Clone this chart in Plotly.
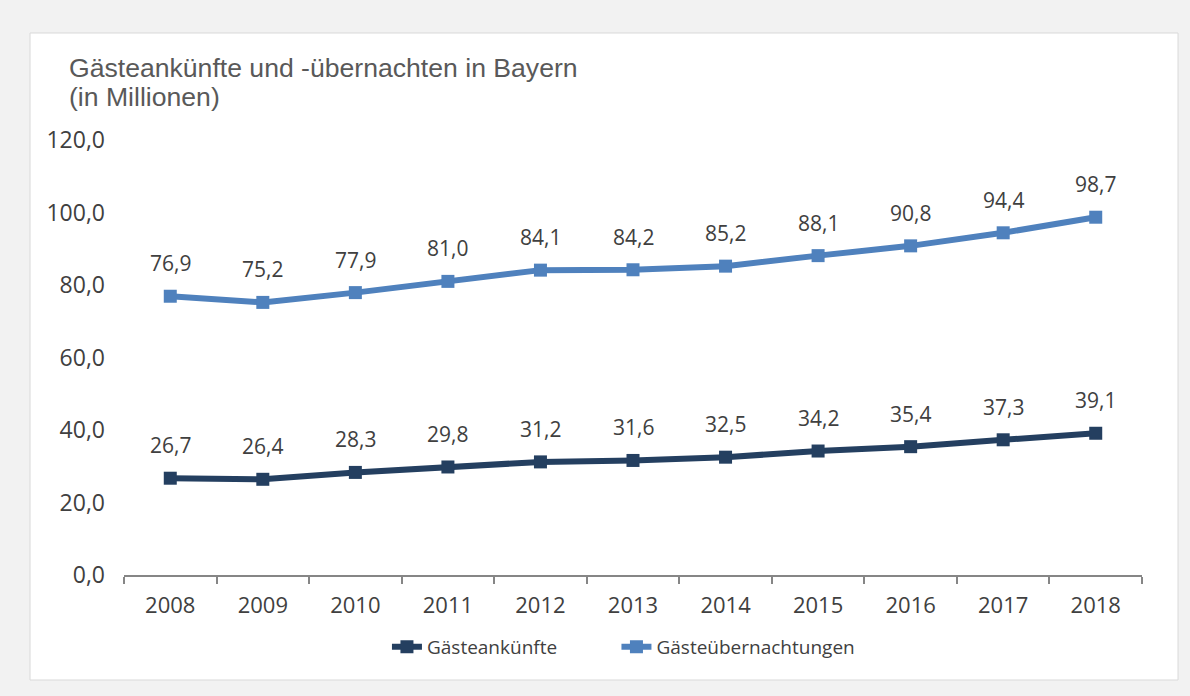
import plotly.graph_objects as go

years = ["2008", "2009", "2010", "2011", "2012", "2013", "2014", "2015", "2016", "2017", "2018"]
ankuenfte = [26.7, 26.4, 28.3, 29.8, 31.2, 31.6, 32.5, 34.2, 35.4, 37.3, 39.1]
uebernachtungen = [76.9, 75.2, 77.9, 81.0, 84.1, 84.2, 85.2, 88.1, 90.8, 94.4, 98.7]
ytick_vals = [0, 20, 40, 60, 80, 100, 120]
ytick_text = ["0,0", "20,0", "40,0", "60,0", "80,0", "100,0", "120,0"]

dark = "#243f60"
light = "#4f81bd"
font_main = "Open Sans"

def fmt(v):
    return f"{v:.1f}".replace(".", ",")

fig = go.Figure()
fig.add_trace(go.Scatter(
    x=years, y=ankuenfte, name="Gästeankünfte" + "\u00a0" * 11, mode="lines+markers",
    line=dict(color=dark, width=6), marker=dict(symbol="square", size=13, color=dark)))
fig.add_trace(go.Scatter(
    x=years, y=uebernachtungen, name="Gästeübernachtungen", mode="lines+markers",
    line=dict(color=light, width=6), marker=dict(symbol="square", size=13, color=light)))

annotations = []
for series in (ankuenfte, uebernachtungen):
    for i, v in enumerate(series):
        annotations.append(dict(x=i, y=v, text=fmt(v), showarrow=False, yshift=33,
                                font=dict(family=font_main, size=21, color="#404040")))
title_font = dict(family="Liberation Sans, Arial", size=26.6, color="#595959")
annotations.append(dict(
    xref="paper", yref="paper", x=-0.056, y=1.1655, xanchor="left", yanchor="middle",
    text="Gästeankünfte und -übernachten in Bayern", showarrow=False, font=title_font))
annotations.append(dict(
    xref="paper", yref="paper", x=-0.056, y=1.0989, xanchor="left", yanchor="middle",
    text="(in Millionen)", showarrow=False, font=title_font))

fig.update_layout(
    width=1190, height=696,
    paper_bgcolor="#f2f2f2", plot_bgcolor="white",
    margin=dict(l=124, r=48, t=140, b=121),
    showlegend=True,
    legend=dict(orientation="h", x=0.2583, xanchor="left", y=-0.165, yanchor="middle",
                font=dict(family=font_main, size=19, color="#404040"), bgcolor="rgba(0,0,0,0)"),
    annotations=annotations,
    shapes=[dict(type="rect", xref="paper", yref="paper", x0=-0.0923, x1=1.0354, y0=-0.2414, y1=1.246,
                 fillcolor="white", line=dict(color="#d9d9d9", width=1), layer="below")],
    xaxis=dict(type="category", range=[-0.5, 10.5], showgrid=False, showline=True, linecolor="#868686",
               linewidth=2, ticks="outside", tickson="boundaries", ticklen=7, tickcolor="#868686",
               tickwidth=2, ticklabelstandoff=10,
               tickfont=dict(family=font_main, size=22, color="#404040"), zeroline=False),
    yaxis=dict(range=[0, 120], showgrid=False, showline=False, zeroline=False,
               tickvals=ytick_vals, ticktext=ytick_text, ticks="", ticklabelstandoff=18,
               tickfont=dict(family=font_main, size=23, color="#404040")),
)

fig.write_html("out.html", config={"displayModeBar": False},
               post_script="document.body.style.margin='0';document.body.style.background='#f2f2f2';")
